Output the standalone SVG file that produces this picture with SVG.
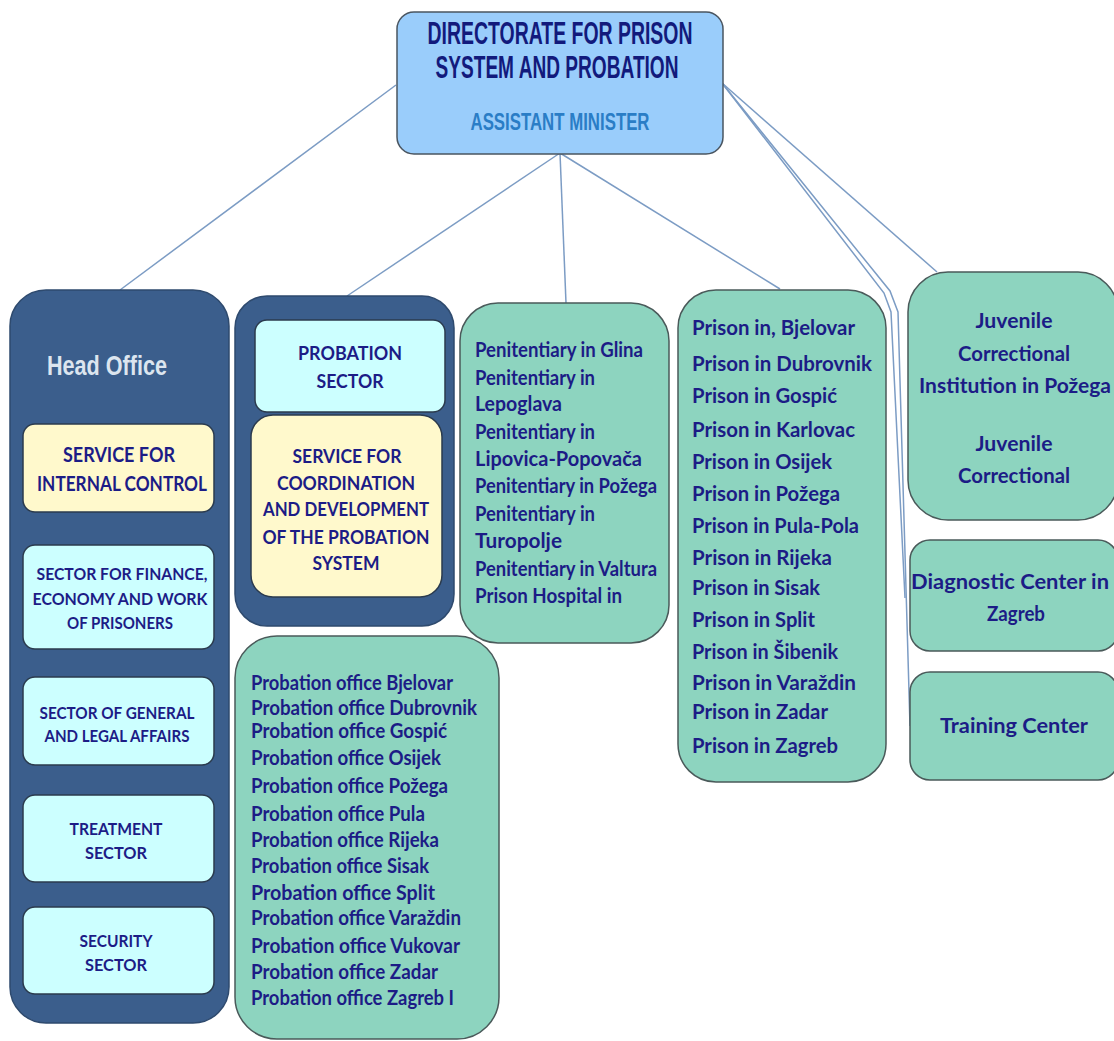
<svg xmlns="http://www.w3.org/2000/svg" width="1114" height="1041" viewBox="0 0 1114 1041">
<style>
.outer{fill:#3B5E8C;stroke:#2E4A6E;stroke-width:1.5}
.cyan{fill:#CCFFFF;stroke:#2B3B4E;stroke-width:1.5}
.yellow{fill:#FFF9CC;stroke:#2B3B4E;stroke-width:1.5}
.mint{fill:#8DD4BF;stroke:#4A5A5A;stroke-width:1.5}
.top{fill:#9ACDFB;stroke:#4A5560;stroke-width:1.5}
.conn{fill:none;stroke:#7C9CC4;stroke-width:1.5}
.cap{font-family:"Lato","Noto Sans",sans-serif;font-weight:bold;font-size:19px;fill:#1C1C86;text-anchor:middle}
.sm{font-size:17px}
.list{font-family:"Lato","Noto Sans",sans-serif;font-weight:bold;font-size:21px;fill:#1C1C86}
.ctr{font-family:"Lato","Noto Sans",sans-serif;font-weight:bold;font-size:21px;fill:#1C1C86;text-anchor:middle}
.title{font-family:"Liberation Sans",Arial,sans-serif;font-weight:bold;font-size:32px;fill:#121A7C;text-anchor:middle}
</style>
<g id="connectors">
<line class="conn" x1="396" y1="85" x2="120" y2="290"/>
<line class="conn" x1="560" y1="153" x2="347" y2="296"/>
<line class="conn" x1="560" y1="153" x2="566" y2="303"/>
<line class="conn" x1="560" y1="153" x2="780" y2="289"/>
<line class="conn" x1="722" y1="83" x2="937" y2="272"/>
<polyline class="conn" points="722,83 884,293 891,312 905,598"/>
<polyline class="conn" points="722,83 890,291 898,312 910,726"/>
</g>
<g id="directorate">
<rect class="top" x="397" y="12" width="326" height="142" rx="17"/>
<text class="title" x="560" y="44" textLength="265" lengthAdjust="spacingAndGlyphs">DIRECTORATE FOR PRISON</text>
<text class="title" x="557" y="78" textLength="243" lengthAdjust="spacingAndGlyphs">SYSTEM AND PROBATION</text>
<text class="title" x="560" y="130" style="font-size:23px;fill:#2A7DC6" textLength="179" lengthAdjust="spacingAndGlyphs">ASSISTANT MINISTER</text>
</g>
<g id="head-office">
<rect class="outer" x="10" y="290" width="219" height="733" rx="36"/>
<text x="107" y="375" style="font-family:'Liberation Sans',Arial,sans-serif;font-size:28px;font-weight:bold;fill:#DCE5EF;text-anchor:middle" textLength="120" lengthAdjust="spacingAndGlyphs">Head Office</text>
</g>
<g id="internal-control">
<rect class="yellow" x="23" y="424" width="191" height="88" rx="12"/>
<text class="cap" x="119" y="462" style="font-size:20px" textLength="112" lengthAdjust="spacingAndGlyphs">SERVICE FOR</text>
<text class="cap" x="122" y="491" style="font-size:20px" textLength="170" lengthAdjust="spacingAndGlyphs">INTERNAL CONTROL</text>
</g>
<g id="finance">
<rect class="cyan" x="23" y="545" width="191" height="104" rx="12"/>
<text class="cap sm" x="122" y="580" textLength="171" lengthAdjust="spacingAndGlyphs">SECTOR FOR FINANCE,</text>
<text class="cap sm" x="120" y="605" textLength="175" lengthAdjust="spacingAndGlyphs">ECONOMY AND WORK</text>
<text class="cap sm" x="120" y="629" textLength="106" lengthAdjust="spacingAndGlyphs">OF PRISONERS</text>
</g>
<g id="general-legal">
<rect class="cyan" x="23" y="677" width="191" height="88" rx="12"/>
<text class="cap sm" x="117" y="719" textLength="155" lengthAdjust="spacingAndGlyphs">SECTOR OF GENERAL</text>
<text class="cap sm" x="117" y="742" textLength="145" lengthAdjust="spacingAndGlyphs">AND LEGAL AFFAIRS</text>
</g>
<g id="treatment">
<rect class="cyan" x="23" y="795" width="191" height="87" rx="12"/>
<text class="cap sm" x="116" y="835" textLength="93" lengthAdjust="spacingAndGlyphs">TREATMENT</text>
<text class="cap sm" x="116" y="859" textLength="62" lengthAdjust="spacingAndGlyphs">SECTOR</text>
</g>
<g id="security">
<rect class="cyan" x="23" y="907" width="191" height="87" rx="12"/>
<text class="cap sm" x="116" y="947" textLength="73" lengthAdjust="spacingAndGlyphs">SECURITY</text>
<text class="cap sm" x="116" y="971" textLength="62" lengthAdjust="spacingAndGlyphs">SECTOR</text>
</g>
<g id="probation-group">
<rect class="outer" x="235" y="296" width="219" height="330" rx="32"/>
</g>
<g id="probation-sector">
<rect class="cyan" x="255" y="320" width="190" height="92" rx="12"/>
<text class="cap" x="350" y="360" textLength="104" lengthAdjust="spacingAndGlyphs">PROBATION</text>
<text class="cap" x="350" y="388" textLength="67" lengthAdjust="spacingAndGlyphs">SECTOR</text>
</g>
<g id="coordination">
<rect class="yellow" x="251" y="415" width="191" height="182" rx="22"/>
<text class="cap" x="347" y="463" textLength="109" lengthAdjust="spacingAndGlyphs">SERVICE FOR</text>
<text class="cap" x="346" y="490" textLength="138" lengthAdjust="spacingAndGlyphs">COORDINATION</text>
<text class="cap" x="346" y="516" textLength="166" lengthAdjust="spacingAndGlyphs">AND DEVELOPMENT</text>
<text class="cap" x="346" y="544" textLength="167" lengthAdjust="spacingAndGlyphs">OF THE PROBATION</text>
<text class="cap" x="346" y="570" textLength="67" lengthAdjust="spacingAndGlyphs">SYSTEM</text>
</g>
<g id="probation-offices">
<rect class="mint" x="235" y="636" width="264" height="403" rx="42"/>
<text class="list" style="font-size:20px" x="251" y="690" textLength="202" lengthAdjust="spacingAndGlyphs">Probation office Bjelovar</text>
<text class="list" style="font-size:20px" x="251" y="715" textLength="226" lengthAdjust="spacingAndGlyphs">Probation office Dubrovnik</text>
<text class="list" style="font-size:20px" x="251" y="738" textLength="196" lengthAdjust="spacingAndGlyphs">Probation office Gospić</text>
<text class="list" style="font-size:20px" x="251" y="765" textLength="190" lengthAdjust="spacingAndGlyphs">Probation office Osijek</text>
<text class="list" style="font-size:20px" x="251" y="793" textLength="197" lengthAdjust="spacingAndGlyphs">Probation office Požega</text>
<text class="list" style="font-size:20px" x="251" y="821" textLength="174" lengthAdjust="spacingAndGlyphs">Probation office Pula</text>
<text class="list" style="font-size:20px" x="251" y="847" textLength="188" lengthAdjust="spacingAndGlyphs">Probation office Rijeka</text>
<text class="list" style="font-size:20px" x="251" y="873" textLength="178" lengthAdjust="spacingAndGlyphs">Probation office Sisak</text>
<text class="list" style="font-size:20px" x="251" y="900" textLength="184" lengthAdjust="spacingAndGlyphs">Probation office Split</text>
<text class="list" style="font-size:20px" x="251" y="925" textLength="210" lengthAdjust="spacingAndGlyphs">Probation office Varaždin</text>
<text class="list" style="font-size:20px" x="251" y="953" textLength="209" lengthAdjust="spacingAndGlyphs">Probation office Vukovar</text>
<text class="list" style="font-size:20px" x="251" y="979" textLength="187" lengthAdjust="spacingAndGlyphs">Probation office Zadar</text>
<text class="list" style="font-size:20px" x="251" y="1005" textLength="203" lengthAdjust="spacingAndGlyphs">Probation office Zagreb I</text>
</g>
<g id="penitentiaries">
<rect class="mint" x="460" y="303" width="209" height="340" rx="38"/>
<text class="list" x="475" y="357" textLength="168" lengthAdjust="spacingAndGlyphs">Penitentiary in Glina</text>
<text class="list" x="475" y="385" textLength="120" lengthAdjust="spacingAndGlyphs">Penitentiary in</text>
<text class="list" x="475" y="411" textLength="87" lengthAdjust="spacingAndGlyphs">Lepoglava</text>
<text class="list" x="475" y="439" textLength="120" lengthAdjust="spacingAndGlyphs">Penitentiary in</text>
<text class="list" x="475" y="466" textLength="167" lengthAdjust="spacingAndGlyphs">Lipovica-Popovača</text>
<text class="list" x="475" y="493" textLength="182" lengthAdjust="spacingAndGlyphs">Penitentiary in Požega</text>
<text class="list" x="475" y="521" textLength="120" lengthAdjust="spacingAndGlyphs">Penitentiary in</text>
<text class="list" x="475" y="548" textLength="87" lengthAdjust="spacingAndGlyphs">Turopolje</text>
<text class="list" x="475" y="576" textLength="182" lengthAdjust="spacingAndGlyphs">Penitentiary in Valtura</text>
<text class="list" x="475" y="603" textLength="147" lengthAdjust="spacingAndGlyphs">Prison Hospital in</text>
</g>
<g id="prisons">
<rect class="mint" x="678" y="290" width="208" height="492" rx="38"/>
<text class="list" x="692" y="335" textLength="163" lengthAdjust="spacingAndGlyphs">Prison in, Bjelovar</text>
<text class="list" x="692" y="371" textLength="180" lengthAdjust="spacingAndGlyphs">Prison in Dubrovnik</text>
<text class="list" x="692" y="403" textLength="145" lengthAdjust="spacingAndGlyphs">Prison in Gospić</text>
<text class="list" x="692" y="437" textLength="163" lengthAdjust="spacingAndGlyphs">Prison in Karlovac</text>
<text class="list" x="692" y="469" textLength="140" lengthAdjust="spacingAndGlyphs">Prison in Osijek</text>
<text class="list" x="692" y="501" textLength="148" lengthAdjust="spacingAndGlyphs">Prison in Požega</text>
<text class="list" x="692" y="533" textLength="167" lengthAdjust="spacingAndGlyphs">Prison in Pula-Pola</text>
<text class="list" x="692" y="565" textLength="140" lengthAdjust="spacingAndGlyphs">Prison in Rijeka</text>
<text class="list" x="692" y="595" textLength="128" lengthAdjust="spacingAndGlyphs">Prison in Sisak</text>
<text class="list" x="692" y="627" textLength="123" lengthAdjust="spacingAndGlyphs">Prison in Split</text>
<text class="list" x="692" y="659" textLength="146" lengthAdjust="spacingAndGlyphs">Prison in Šibenik</text>
<text class="list" x="692" y="690" textLength="164" lengthAdjust="spacingAndGlyphs">Prison in Varaždin</text>
<text class="list" x="692" y="719" textLength="136" lengthAdjust="spacingAndGlyphs">Prison in Zadar</text>
<text class="list" x="692" y="753" textLength="146" lengthAdjust="spacingAndGlyphs">Prison in Zagreb</text>
</g>
<g id="juvenile">
<rect class="mint" x="908" y="272" width="210" height="248" rx="40"/>
<text class="ctr" x="1014" y="328" textLength="77" lengthAdjust="spacingAndGlyphs">Juvenile</text>
<text class="ctr" x="1014" y="361" textLength="112" lengthAdjust="spacingAndGlyphs">Correctional</text>
<text class="ctr" x="1015" y="393" textLength="192" lengthAdjust="spacingAndGlyphs">Institution in Požega</text>
<text class="ctr" x="1014" y="451" textLength="77" lengthAdjust="spacingAndGlyphs">Juvenile</text>
<text class="ctr" x="1014" y="483" textLength="112" lengthAdjust="spacingAndGlyphs">Correctional</text>
</g>
<g id="diagnostic">
<rect class="mint" x="910" y="540" width="208" height="111" rx="20"/>
<text class="ctr" x="1010" y="589" textLength="198" lengthAdjust="spacingAndGlyphs">Diagnostic Center in</text>
<text class="ctr" x="1016" y="621" textLength="58" lengthAdjust="spacingAndGlyphs">Zagreb</text>
</g>
<g id="training">
<rect class="mint" x="910" y="672" width="208" height="108" rx="20"/>
<text class="ctr" x="1014" y="733" textLength="148" lengthAdjust="spacingAndGlyphs">Training Center</text>
</g>
</svg>
